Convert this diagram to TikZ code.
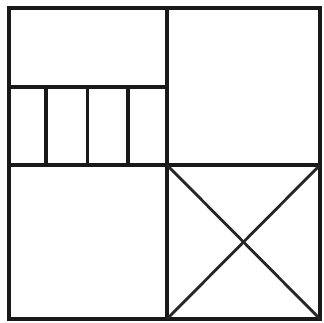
\documentclass[tikz,border=0pt]{standalone}
\begin{document}
\begin{tikzpicture}[x=1pt,y=-1pt,
  frame/.style={draw=black!90,line width=3.6pt,line join=miter},
  inner/.style={draw=black!90,line width=3.3pt},
  diag/.style={draw=black!85,line width=2.8pt}]
\useasboundingbox (0,0) rectangle (324,322);
\coordinate (tl) at (9,8);
\coordinate (br) at (320,319);
\coordinate (mt) at (167,8);
\coordinate (mb) at (167,319);
\coordinate (ml) at (9,165);
\coordinate (mr) at (320,165);
\coordinate (c) at (167,165);
\draw[frame] (tl) rectangle (br);
\draw[inner] (mt) -- (mb);
\draw[inner] (ml) -- (mr);
\draw[inner] (9,87) -- (167,87);
\foreach \x in {46,87.5,128} \draw[inner] (\x,87) -- (\x,165);
\draw[diag] (c) -- (br);
\draw[diag] (mr) -- (mb);
\end{tikzpicture}
\end{document}
